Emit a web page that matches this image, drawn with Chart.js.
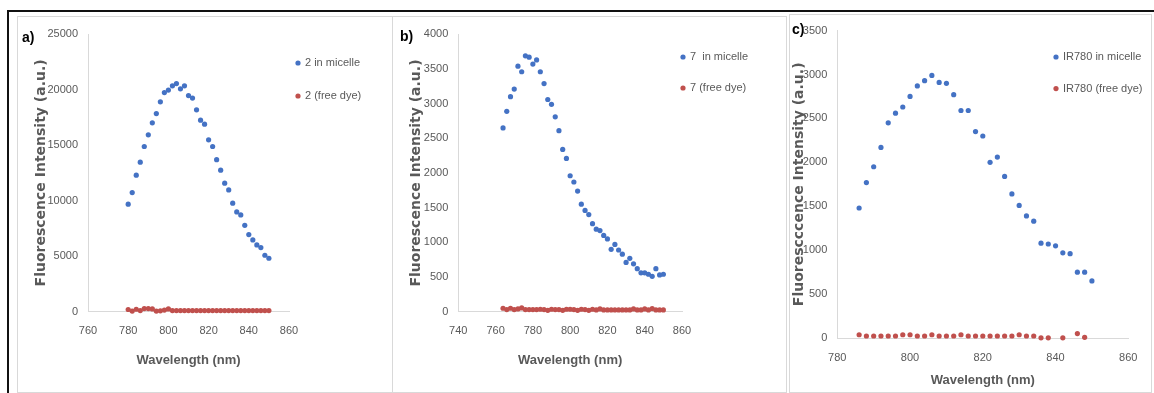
<!DOCTYPE html>
<html>
<head>
<meta charset="utf-8">
<script src="https://cdn.jsdelivr.net/npm/chart.js@4.4.1/dist/chart.umd.min.js"></script>
<style>
  html, body { margin: 0; padding: 0; background: #fff; }
  #page { position: relative; width: 1154px; height: 393px; overflow: hidden; }
  .line { position: absolute; background: #111; }
  .panel { position: absolute; border: 1px solid #d9d9d9; box-sizing: border-box; }
  canvas { position: absolute; }
  .tag { position: absolute; font: bold 14px "Liberation Sans", sans-serif; color: #000; }
</style>
</head>
<body>
<div id="page">
  <div class="line" style="left:7px;top:10px;width:1147px;height:2px"></div>
  <div class="line" style="left:7px;top:10px;width:2px;height:383px"></div>
  <div class="panel" style="left:17px;top:16px;width:376px;height:377px"></div>
  <div class="panel" style="left:392px;top:16px;width:395px;height:377px"></div>
  <div class="panel" style="left:789px;top:14px;width:363px;height:379px"></div>
  <canvas id="chartA" width="375" height="376" style="left:17px;top:16px"></canvas>
  <canvas id="chartB" width="393" height="376" style="left:393px;top:16px"></canvas>
  <canvas id="chartC" width="363" height="378" style="left:789px;top:14px"></canvas>
  <div class="tag" style="left:22px;top:29px">a)</div>
  <div class="tag" style="left:400px;top:28px">b)</div>
  <div class="tag" style="left:792px;top:21px">c)</div>
</div>
<script>
// ====== Data ======
const wlA = [780, 782, 784, 786, 788, 790, 792, 794, 796, 798, 800, 802, 804, 806, 808, 810, 812, 814,
  816, 818, 820, 822, 824, 826, 828, 830, 832, 834, 836, 838, 840, 842, 844, 846, 848, 850];
const micelleA = [9680, 10720, 12290, 13460, 14870, 15920, 17000, 17840, 18890, 19730, 19950, 20330,
  20540, 20060, 20330, 19460, 19230, 18170, 17240, 16880, 15470, 14870, 13690, 12740, 11570, 10960,
  9770, 8980, 8710, 7780, 6940, 6460, 6010, 5770, 5080, 4810];
const freeA = [200, 60, 220, 100, 280, 280, 250, 60, 80, 150, 250, 100, 100, 100, 100, 100, 100, 100,
  100, 100, 100, 100, 100, 100, 100, 100, 100, 100, 100, 100, 100, 100, 100, 100, 100, 100];

const wlB = [764, 766, 768, 770, 772, 774, 776, 778, 780, 782, 784, 786, 788, 790, 792, 794, 796, 798,
  800, 802, 804, 806, 808, 810, 812, 814, 816, 818, 820, 822, 824, 826, 828, 830, 832, 834, 836, 838,
  840, 842, 844, 846, 848, 850];
const micelleB = [2650, 2890, 3100, 3210, 3540, 3460, 3690, 3670, 3570, 3630, 3460, 3290, 3060, 2990,
  2810, 2610, 2340, 2210, 1960, 1870, 1740, 1550, 1460, 1400, 1270, 1190, 1170, 1100, 1050, 900, 970,
  890, 830, 710, 770, 690, 620, 560, 560, 540, 510, 620, 530, 540];
const freeB = [50, 30, 50, 30, 40, 55, 30, 30, 30, 30, 35, 30, 20, 35, 30, 30, 20, 35, 35, 30, 20, 35,
  30, 20, 35, 25, 40, 25, 25, 25, 25, 25, 25, 25, 25, 40, 25, 25, 40, 25, 45, 25, 25, 25];

const wlC = [786, 788, 790, 792, 794, 796, 798, 800, 802, 804, 806, 808, 810, 812, 814, 816, 818, 820,
  822, 824, 826, 828, 830, 832, 834, 836, 838, 840, 842, 844, 846, 848, 850];
const micelleC = [1480, 1770, 1950, 2170, 2450, 2560, 2630, 2750, 2870, 2930, 2990, 2910, 2900, 2770,
  2590, 2590, 2350, 2300, 2000, 2060, 1840, 1640, 1510, 1390, 1330, 1080, 1070, 1050, 970, 960, 750,
  750, 650];
const freeC = [37, 23, 23, 23, 23, 23, 37, 37, 23, 23, 37, 23, 23, 23, 37, 23, 23, 23, 23, 23, 23, 23,
  37, 23, 23, 2, 2, null, 2, null, 50, 8, null];

// ====== Styles ======
const BLUE = "#4472c4";
const RED = "#c0504d";
const GREY = "#595959";
const AXIS = "#d9d9d9";
const SANS = "'Liberation Sans', sans-serif";

// legend drawn as dots + text at a fixed spot of the canvas
const dotLegend = {
  id: "dotLegend",
  afterDraw(chart, args, opts) {
    const { ctx } = chart;
    ctx.save();
    ctx.font = "11px " + SANS;
    ctx.textBaseline = "middle";
    chart.data.datasets.forEach((ds, i) => {
      const y = opts.y + i * opts.gap;
      ctx.beginPath();
      ctx.arc(opts.x, y, 2.6, 0, Math.PI * 2);
      ctx.fillStyle = ds.backgroundColor;
      ctx.fill();
      ctx.fillStyle = GREY;
      ctx.fillText(ds.label, opts.x + 7, y);
    });
    ctx.restore();
  }
};

function points(xs, ys) {
  return xs.map((x, i) => ({ x, y: ys[i] }));
}

function makeChart(id, p) {
  new Chart(document.getElementById(id), {
    type: "scatter",
    data: {
      datasets: [
        { label: p.labels[0], data: points(p.wl, p.micelle), backgroundColor: BLUE, borderColor: BLUE },
        { label: p.labels[1], data: points(p.wl, p.free), backgroundColor: RED, borderColor: RED },
      ],
    },
    options: {
      responsive: false,
      animation: false,
      layout: { padding: p.pad },
      elements: { point: { radius: 2.6, borderWidth: 0, hoverRadius: 2.6 } },
      datasets: { scatter: { clip: false } },
      plugins: {
        legend: { display: false },
        tooltip: { enabled: false },
        dotLegend: p.legend,
      },
      scales: {
        x: {
          type: "linear",
          min: p.xMin, max: p.xMax,
          afterFit: s => { s.height = p.xh; },
          grid: { display: false, drawTicks: false },
          border: { display: true, color: AXIS, width: 1 },
          ticks: {
            stepSize: 20, padding: p.xTickPad, color: GREY, maxRotation: 0,
            font: { family: SANS, size: 11 }, callback: v => String(v),
          },
          title: {
            display: true, text: "Wavelength (nm)", color: GREY,
            font: { family: SANS, size: 13, weight: "bold" },
            padding: { top: 0, bottom: p.xTitlePad },
          },
        },
        y: {
          min: 0, max: p.yMax,
          afterFit: s => { s.width = p.yw; },
          grid: { display: false, drawTicks: false },
          border: { display: true, color: AXIS, width: 1 },
          ticks: {
            stepSize: p.yStep, padding: 10, color: GREY,
            font: { family: SANS, size: 11 }, callback: v => String(v),
          },
          title: {
            display: true, text: p.yTitle, color: GREY,
            font: { family: "'DejaVu Sans', sans-serif", size: 14, weight: "bold" },
            padding: { top: p.yTitlePad, bottom: 0 },
          },
        },
      },
    },
    plugins: [dotLegend],
  });
}

makeChart("chartA", {
  wl: wlA, micelle: micelleA, free: freeA,
  labels: ["2 in micelle", "2 (free dye)"],
  xMin: 760, xMax: 860, yMax: 25000, yStep: 5000,
  yTitle: "Fluorescence Intensity (a.u.)",
  pad: { left: 0, right: 103, top: 18, bottom: 20.3 },
  yw: 71, xh: 60, xTickPad: 13, xTitlePad: 3.5, yTitlePad: 16.3,
  legend: { x: 281, y: 47, gap: 33 },
});

makeChart("chartB", {
  wl: wlB, micelle: micelleB, free: freeB,
  labels: ["7  in micelle", "7 (free dye)"],
  xMin: 740, xMax: 860, yMax: 4000, yStep: 500,
  yTitle: "Fluorescence Intensity (a.u.)",
  pad: { left: 0, right: 104, top: 18.3, bottom: 20.3 },
  yw: 65.3, xh: 60, xTickPad: 13, xTitlePad: 3.5, yTitlePad: 15.3,
  legend: { x: 290, y: 41, gap: 31 },
});

makeChart("chartC", {
  wl: wlC, micelle: micelleC, free: freeC,
  labels: ["IR780 in micelle", "IR780 (free dye)"],
  xMin: 780, xMax: 860, yMax: 3500, yStep: 500,
  yTitle: "Fluorescccence Intensity (a.u.)",
  pad: { left: 0, right: 23.7, top: 15.3, bottom: 3.3 },
  yw: 48.3, xh: 50.7, xTickPad: 13.2, xTitlePad: 0.8, yTitlePad: 1.6,
  legend: { x: 267, y: 43, gap: 31.6 },
});
</script>
</body>
</html>
